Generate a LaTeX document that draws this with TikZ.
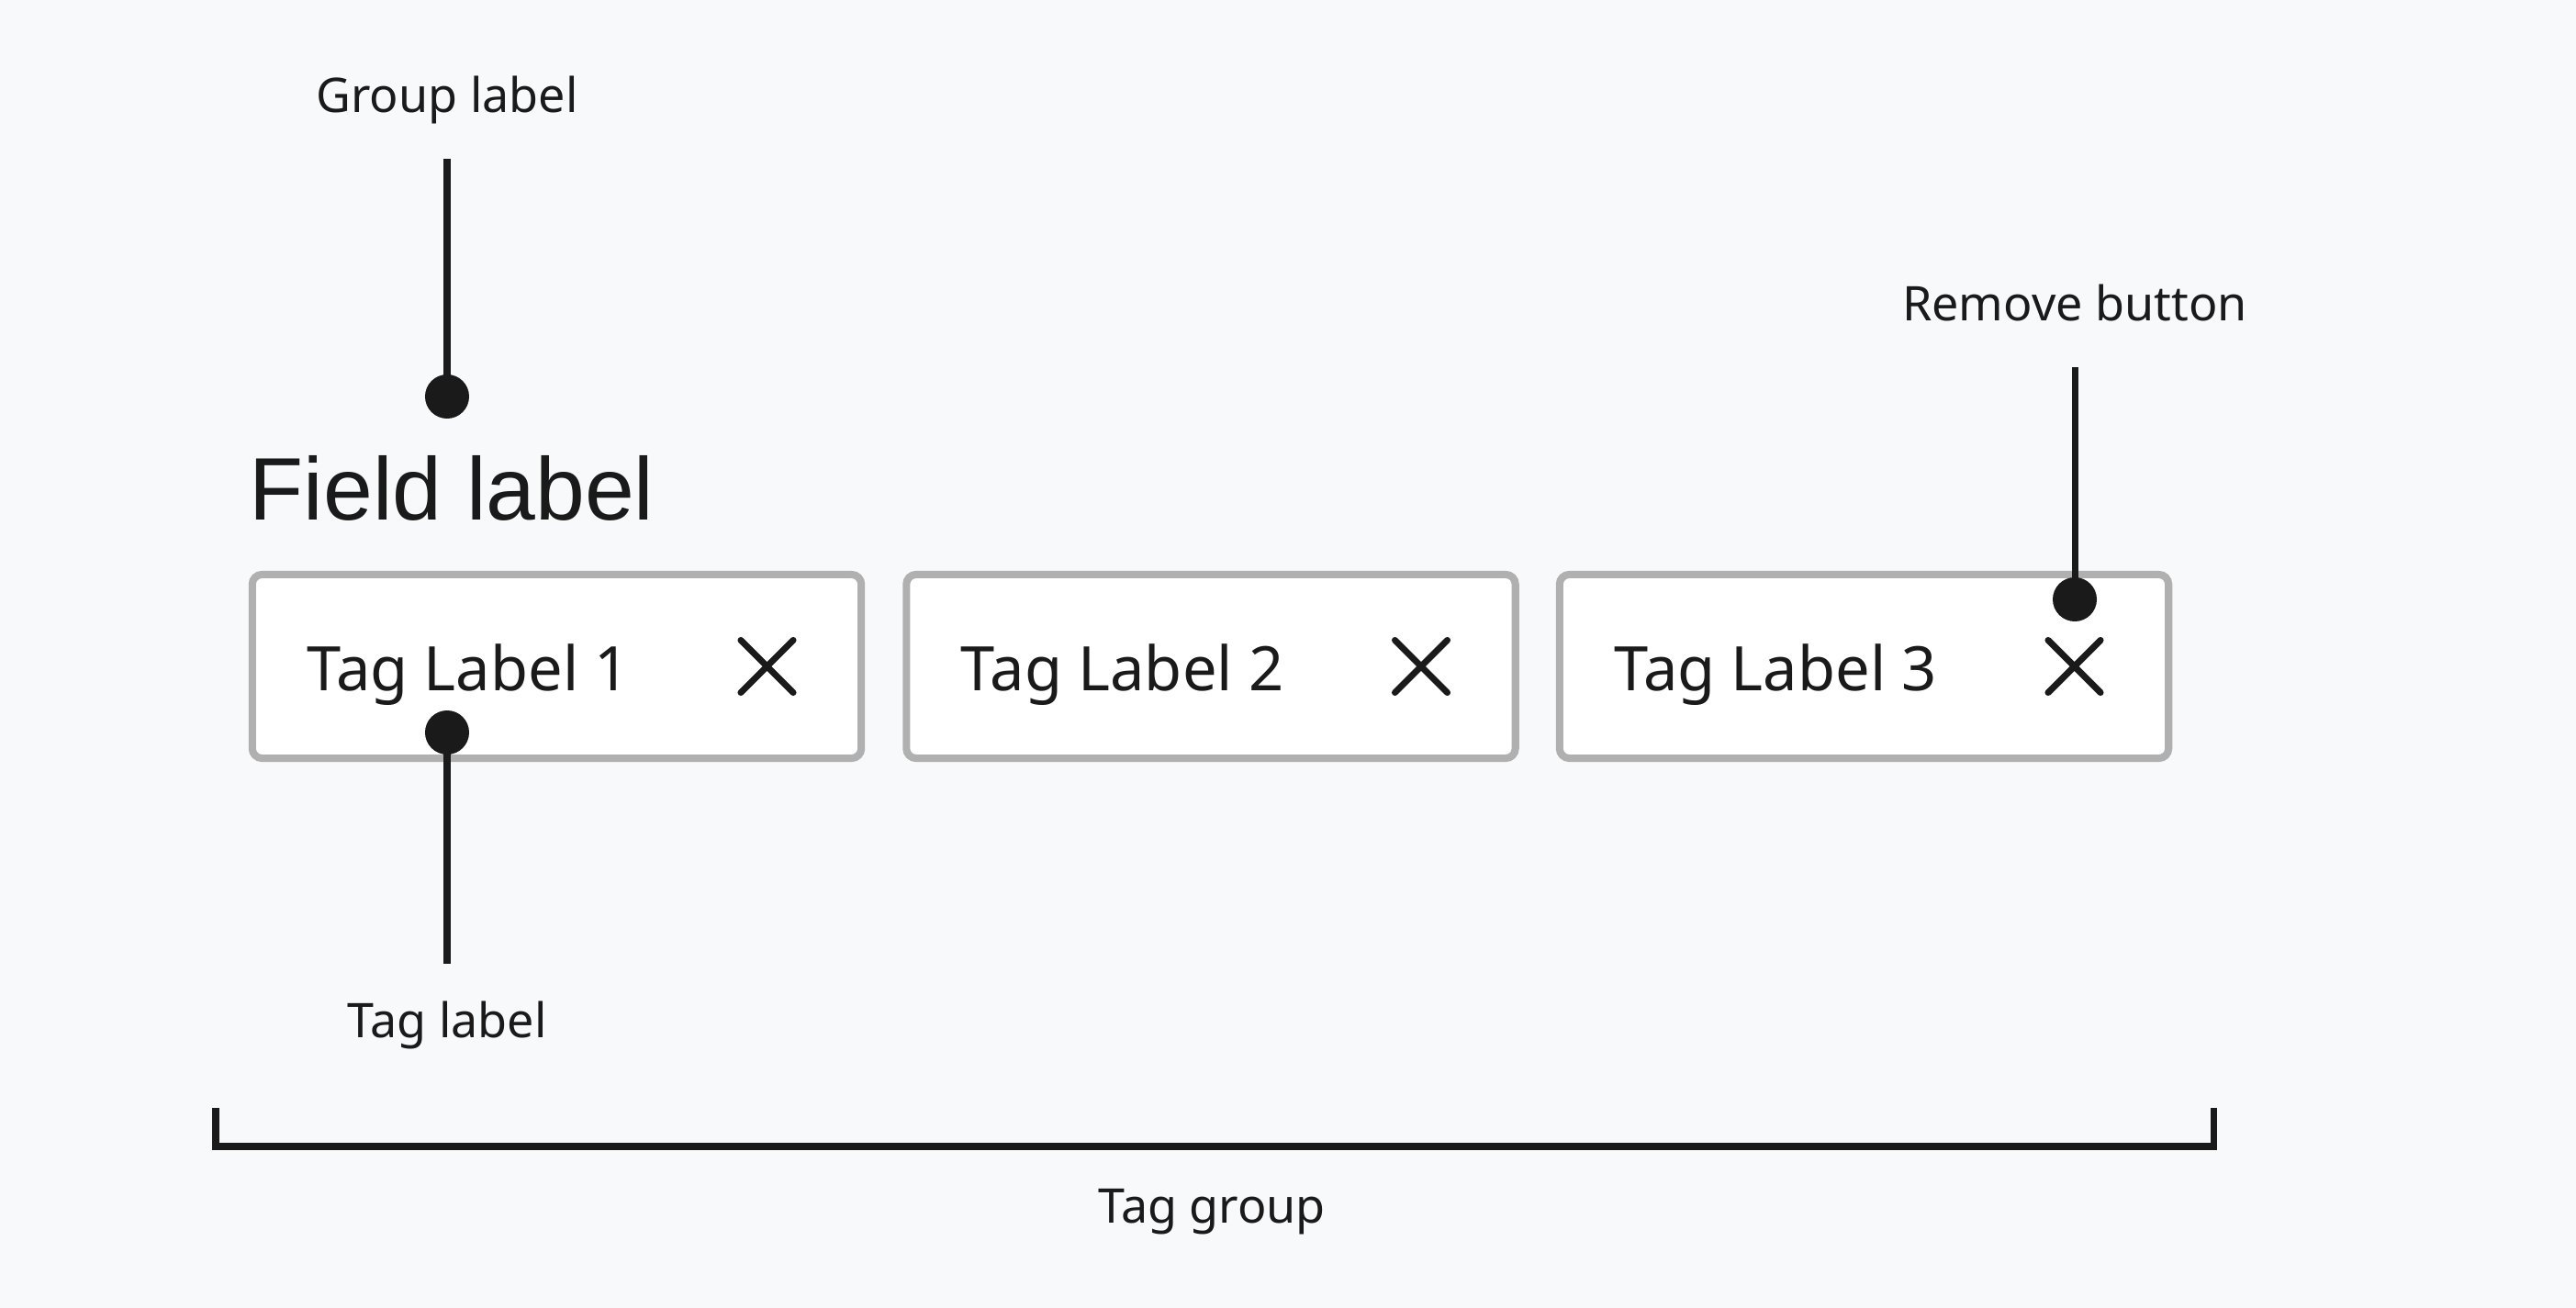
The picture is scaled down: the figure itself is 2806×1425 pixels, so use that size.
\documentclass[tikz,border=0pt]{standalone}
\usepackage{fontspec}
\setmainfont{Noto Sans}
\newfontfamily\fieldfont{Liberation Sans}
\usetikzlibrary{positioning,shapes.misc}

\definecolor{bgcol}{HTML}{F8F9FB}
\definecolor{inkcol}{HTML}{1A1A1A}
\definecolor{tagborder}{HTML}{B0B0B0}

\tikzset{
	callout/.style={font=\fontsize{14.8}{18}\selectfont, text=inkcol, inner sep=0pt, anchor=base},
	stem/.style={draw=inkcol, line width=2pt},
	pin/.style={circle, fill=inkcol, minimum size=0.48cm, inner sep=0pt},
	tagbox/.style={draw=tagborder, line width=2.3pt, fill=white, rounded corners=3pt, minimum width=6.63cm, minimum height=2cm, inner sep=0pt},
	tagtext/.style={font=\fontsize{19}{23}\selectfont, text=inkcol, inner sep=0pt, anchor=base west},
	closex/.style={draw=inkcol, cross out, line width=2pt, line cap=round, minimum size=0.5cm, inner sep=0pt}
}

\begin{document}
\begin{tikzpicture}[x=0.01cm,y=-0.01cm]
	\fill[bgcol] (0,0) rectangle (2806,1425);
	\useasboundingbox (0,0) rectangle (2806,1425);
	\node[font=\fieldfont\fontsize{27.5}{33}\selectfont, text=inkcol, inner sep=0pt, anchor=base west] (field) at (271,567) {Field label};
	\foreach \i/\x in {1/606.5,2/1319,3/2030.5}
	{
		\node[tagbox] (tag\i) at (\x,726) {};
		\node[tagtext] (tagtxt\i) at (\x-273,752) {Tag Label \i};
		\node[closex] (close\i) at (\x+229,726) {};
	}
	\node[callout] (grouplbl) at (487,123) {Group label};
	\node[pin] (groupdot) at (487,432) {};
	\coordinate (grouptop) at (487,173);
	\draw[stem] (grouptop) -- (groupdot.center);
	\node[callout] (removelbl) at (2260,350) {Remove button};
	\node[pin] (removedot) at (2260,653) {};
	\coordinate (removetop) at (2260,400);
	\draw[stem] (removetop) -- (removedot.center);
	\node[pin] (tagdot) at (487,798) {};
	\coordinate (tagend) at (487,1050);
	\draw[stem] (tagdot.center) -- (tagend);
	\node[callout] (taglbl) at (487,1130) {Tag label};
	\coordinate (brl) at (235,1207);
	\coordinate (brr) at (2411,1207);
	\draw[stem] (brl) -- ++(0,42) -| (brr);
	\node[callout] (grouptxt) at (1320,1332) {Tag group};
\end{tikzpicture}
\end{document}
